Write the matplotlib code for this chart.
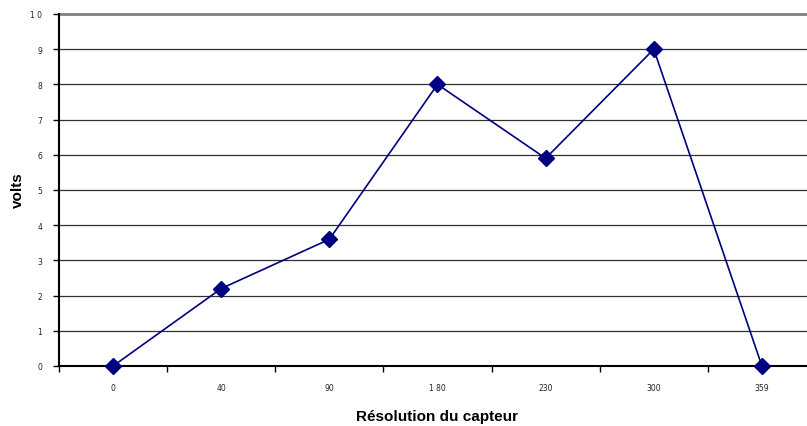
import numpy as np
import matplotlib.pyplot as plt
from matplotlib.ticker import FixedLocator, NullFormatter

categories = ['0', '40', '90', '1 80', '230', '300', '359']
volts = [0, 2.2, 3.6, 8.0, 5.9, 9.0, 0.0]
y_ticks = list(range(0, 11))
y_labels = [str(v) if v < 10 else '1 0' for v in y_ticks]

fig = plt.figure(figsize=(8.07, 4.27), dpi=100)
ax = fig.add_axes([59 / 807, 60 / 427, 757 / 807, 352 / 427])

x = np.arange(len(categories))
ax.plot(x, volts, color='#000080', lw=1.2, marker='D', markersize=8,
        markerfacecolor='#000080', markeredgecolor='#000080', zorder=4,
        clip_on=False)

ax.set_xlim(-0.5, len(categories) - 0.5)
ax.set_ylim(0, 10)

# horizontal gridlines
for v in y_ticks[1:-1]:
    ax.axhline(v, color='#303030', lw=0.9, zorder=1)
ax.axhline(10, color='#808080', lw=2, zorder=1, clip_on=False)

for s in ['top', 'right']:
    ax.spines[s].set_visible(False)
ax.spines['left'].set_linewidth(1.5)
ax.spines['bottom'].set_linewidth(1.5)

ax.set_yticks(y_ticks)
ax.set_yticklabels(y_labels, fontsize=5.5, color='#222222')
ax.set_xticks(x)
ax.set_xticklabels(categories, fontsize=5.5, color='#222222')
ax.tick_params(axis='x', which='major', length=0, pad=12)
ax.xaxis.set_minor_locator(FixedLocator(np.arange(-0.5, len(categories), 1.0)))
ax.xaxis.set_minor_formatter(NullFormatter())
ax.tick_params(axis='x', which='minor', length=4, width=1)
ax.tick_params(axis='y', length=4, width=1, pad=8)

fig.text(437 / 807, 1 - 417 / 427, 'Résolution du capteur', fontsize=11,
         fontweight='bold', ha='center', va='center', family='Liberation Sans')
fig.text(18 / 807, 1 - 190 / 427, 'volts', fontsize=11, fontweight='bold',
         rotation=90, ha='center', va='center', family='Liberation Sans')

fig.savefig('out.png', dpi=100)
